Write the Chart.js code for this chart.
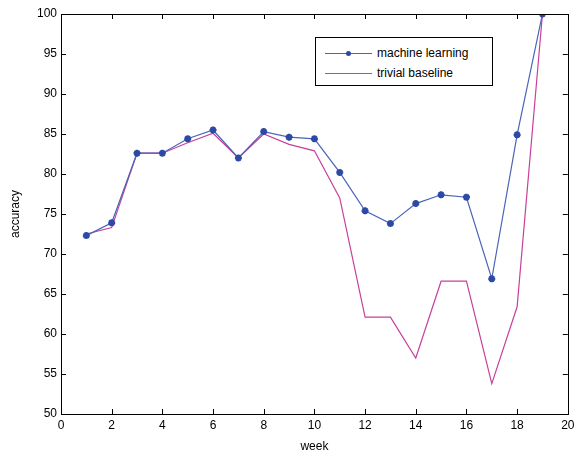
<!DOCTYPE html>
<html>
<head>
<meta charset="utf-8">
<script src="https://cdn.jsdelivr.net/npm/chart.js@4.4.0/dist/chart.umd.min.js"></script>
<style>
  html, body { margin: 0; padding: 0; background: #fff; }
  #wrap { position: relative; width: 574px; height: 454px; }
  #legend {
    position: absolute; left: 315px; top: 37px; width: 178px; height: 49px;
    border: 1px solid #000; background: #fff; box-sizing: border-box;
    font-family: "Liberation Sans", Arial, sans-serif; font-size: 12px; color: #000;
  }
  .row { position: absolute; left: 0; height: 14px; line-height: 14px; }
  .row span.txt { position: absolute; left: 61px; white-space: nowrap; }
  .sample { position: absolute; left: 9px; top: 7px; width: 47px; height: 1px; }
  .dot { position: absolute; left: 30px; top: 5px; width: 5px; height: 5px; border-radius: 50%; background: #2c49a6; }
</style>
</head>
<body>
<div id="wrap">
  <canvas id="c" width="574" height="454"></canvas>
  <div id="legend">
    <div class="row" style="top:8px;width:178px;"><div class="sample" style="background:#4a64b8"></div><div class="dot"></div><span class="txt">machine learning</span></div>
    <div class="row" style="top:28px;width:178px;"><div class="sample" style="background:#c8409c"></div><span class="txt">trivial baseline</span></div>
  </div>
</div>
<script>
const weeks = [1,2,3,4,5,6,7,8,9,10,11,12,13,14,15,16,17,18,19];
const machineLearning = [72.3,73.9,82.6,82.6,84.4,85.5,82.0,85.3,84.6,84.4,80.2,75.4,73.8,76.3,77.4,77.1,66.9,84.9,100];
const trivialBaseline = [72.5,73.3,82.6,82.6,83.9,85.1,82.0,85.0,83.7,82.9,77.0,62.1,62.1,57.0,66.6,66.6,53.8,63.4,100];
const xTicks = [0,2,4,6,8,10,12,14,16,18,20];
const yTicks = [50,55,60,65,70,75,80,85,90,95,100];

const FONT = "'Liberation Sans', Arial, sans-serif";

const boxTicks = {
  id: 'boxTicks',
  afterDatasetsDraw(chart) {
    const {ctx, chartArea: a, scales} = chart;
    ctx.save();
    ctx.strokeStyle = '#000';
    ctx.lineWidth = 1;
    ctx.beginPath();
    const L = 5;
    xTicks.forEach(v => {
      const px = Math.round(scales.x.getPixelForValue(v)) + 0.5;
      ctx.moveTo(px, a.bottom); ctx.lineTo(px, a.bottom - L);
      ctx.moveTo(px, a.top); ctx.lineTo(px, a.top + L);
    });
    yTicks.forEach(v => {
      const py = Math.round(scales.y.getPixelForValue(v)) + 0.5;
      ctx.moveTo(a.left, py); ctx.lineTo(a.left + L, py);
      ctx.moveTo(a.right, py); ctx.lineTo(a.right - L, py);
    });
    ctx.stroke();
    ctx.strokeRect(Math.round(a.left) + 0.5, Math.round(a.top) + 0.5, Math.round(a.right - a.left), Math.round(a.bottom - a.top));
    ctx.restore();
  }
};

new Chart(document.getElementById('c'), {
  type: 'line',
  data: {
    datasets: [
      {
        label: 'machine learning',
        data: weeks.map((w, i) => ({x: w, y: machineLearning[i]})),
        borderColor: '#4a64b8',
        backgroundColor: '#2c49a6',
        borderWidth: 1.2,
        pointRadius: 3.5,
        pointStyle: 'star',
        pointBorderWidth: 2.2,
        pointBorderColor: '#2c49a6',
        pointBackgroundColor: '#2c49a6',
        tension: 0,
        order: 1
      },
      {
        label: 'trivial baseline',
        data: weeks.map((w, i) => ({x: w, y: trivialBaseline[i]})),
        borderColor: '#c8409c',
        borderWidth: 1.2,
        pointRadius: 0,
        tension: 0,
        order: 2
      }
    ]
  },
  options: {
    responsive: false,
    animation: false,
    layout: { padding: { top: 14, right: 0, left: 0, bottom: 0 } },
    plugins: { legend: { display: false }, tooltip: { enabled: false } },
    scales: {
      x: {
        type: 'linear', min: 0, max: 20,
        afterBuildTicks: s => { s.ticks = xTicks.map(v => ({value: v})); },
        afterFit: s => { s.height = 40; s.paddingRight = 6; s.paddingLeft = 0; },
        grid: { display: false, drawTicks: false },
        border: { display: false },
        ticks: { color: '#000', font: { family: FONT, size: 12 }, padding: 4, maxRotation: 0 },
        title: { display: true, text: 'week', color: '#000', font: { family: FONT, size: 12 }, padding: { top: 2, bottom: 0 } }
      },
      y: {
        type: 'linear', min: 50, max: 100,
        afterBuildTicks: s => { s.ticks = yTicks.map(v => ({value: v})); },
        afterFit: s => { s.width = 61; },
        grid: { display: false, drawTicks: false },
        border: { display: false },
        ticks: { color: '#000', font: { family: FONT, size: 12 }, padding: 4 },
        title: { display: true, text: 'accuracy', color: '#000', font: { family: FONT, size: 12 }, padding: { top: 8, bottom: 0 } }
      }
    }
  },
  plugins: [boxTicks]
});
</script>
</body>
</html>
